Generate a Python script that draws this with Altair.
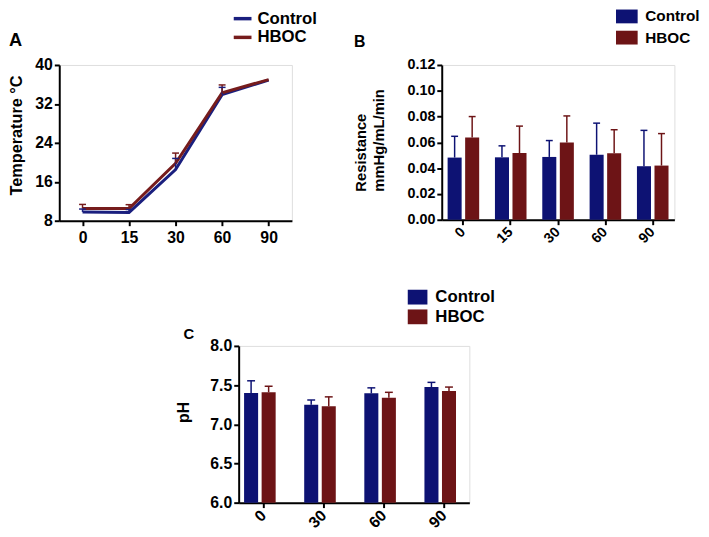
import altair as alt
import pandas as pd

FONT = "Liberation Sans"

# ---------------- data ----------------
groups = ["Control", "HBOC"]

# Panel A: temperature (line chart, mean + upper SEM)
times_a = ["0", "15", "30", "60", "90"]
temp_control = [9.8, 9.7, 18.5, 33.9, 36.9]
temp_control_err = [0.6, 0.6, 2.3, 1.5, 0.0]
temp_hboc = [10.5, 10.5, 19.8, 34.3, 37.0]
temp_hboc_err = [0.85, 0.8, 2.1, 1.6, 0.0]

# Panel B: resistance
times_b = ["0", "15", "30", "60", "90"]
res_control = [0.0482, 0.0484, 0.0487, 0.0504, 0.0415]
res_control_err = [0.0165, 0.0089, 0.0127, 0.0245, 0.0278]
res_hboc = [0.0637, 0.0517, 0.0599, 0.0515, 0.0420]
res_hboc_err = [0.0163, 0.0209, 0.0206, 0.0183, 0.0248]

# Panel C: pH
times_c = ["0", "30", "60", "90"]
ph_control = [7.40, 7.25, 7.395, 7.475]
ph_control_err = [0.155, 0.06, 0.07, 0.06]
ph_hboc = [7.41, 7.23, 7.34, 7.424]
ph_hboc_err = [0.075, 0.12, 0.068, 0.051]

line_colors = ["#1a1f7e", "#761c1c"]
bar_colors = ["#0d1273", "#6d1416"]


def long_df(times, c, ce, h, he):
    n = len(times)
    df = pd.DataFrame({
        "time": list(times) * 2,
        "group": ["Control"] * n + ["HBOC"] * n,
        "value": list(c) + list(h),
        "err": list(ce) + list(he),
    })
    df["upper"] = df["value"] + df["err"]
    return df


df_a = long_df(times_a, temp_control, temp_control_err, temp_hboc, temp_hboc_err)
df_b = long_df(times_b, res_control, res_control_err, res_hboc, res_hboc_err)
df_c = long_df(times_c, ph_control, ph_control_err, ph_hboc, ph_hboc_err)

axis_common = dict(grid=False, domainColor="black", domainWidth=2, tickColor="black",
                   tickWidth=2, tickSize=5, labelColor="black", titleColor="black",
                   labelFont=FONT, titleFont=FONT, labelFontWeight="bold",
                   titleFontWeight="bold", labelOverlap=False)

# ---------------- Panel A ----------------
xa = alt.X("time:N", sort=times_a, scale=alt.Scale(type="point", padding=0.5),
           axis=alt.Axis(title=None, labelAngle=0, labelFontSize=16, labelPadding=4,
                         **axis_common))
ya = alt.Y("value:Q", scale=alt.Scale(domain=[8, 40], nice=False, zero=False),
           axis=alt.Axis(values=[8, 16, 24, 32, 40], tickCount=10, labelFontSize=16,
                         labelPadding=2, title="Temperature °C", titleFontSize=16.5,
                         titleAngle=-90, titleX=-38, titleY=71, titleAlign="center",
                         titleBaseline="alphabetic", **axis_common))
color_a = alt.Color("group:N", scale=alt.Scale(domain=groups, range=line_colors),
                    legend=alt.Legend(title=None, orient="none", legendX=175, legendY=-58,
                                      padding=0, symbolType="stroke",
                                      symbolStrokeWidth=3.5, symbolSize=324,
                                      labelFontSize=17, labelFont=FONT,
                                      labelFontWeight="bold", labelColor="black",
                                      labelOffset=4, rowPadding=0))
base_a = alt.Chart(df_a)
lines_a = base_a.mark_line(strokeWidth=3).encode(x=xa, y=ya, color=color_a)
rule_a = base_a.mark_rule(strokeWidth=1.5).transform_filter("datum.err > 0").encode(
    x=xa, y="value:Q", y2="upper:Q", color=alt.Color("group:N", legend=None))
cap_a = base_a.mark_tick(size=7, thickness=1.5, opacity=1).transform_filter(
    "datum.err > 0").encode(x=xa, y="upper:Q", color=alt.Color("group:N", legend=None))
chart_a = alt.layer(lines_a, rule_a, cap_a).properties(
    width=236, height=158,
    title=alt.TitleParams("A", anchor="start", frame="group", dx=-51, dy=46,
                          fontSize=18.5, fontWeight="bold", font=FONT, color="black"))


# ---------------- bar panels ----------------
def bar_panel(df, times, ydomain, yvalues, yformat, ytitle, label_size, tick_font,
              pad_inner, pad_outer, off_inner, cap, legend_kw, title_kw, width, height,
              title_axis_kw):
    x = alt.X("time:N", sort=times,
              scale=alt.Scale(paddingInner=pad_inner, paddingOuter=pad_outer),
              axis=alt.Axis(title=None, labelAngle=-45, labelAlign="right",
                            labelBaseline="middle", labelFontSize=tick_font,
                            labelPadding=5, **axis_common))
    xo = alt.XOffset("group:N", sort=groups,
                     scale=alt.Scale(paddingInner=off_inner, paddingOuter=0))
    y = alt.Y("value:Q", scale=alt.Scale(domain=ydomain, nice=False, zero=False),
              axis=alt.Axis(values=yvalues, tickCount=12, format=yformat,
                            labelFontSize=tick_font, labelPadding=2, title=ytitle,
                            titleFontSize=label_size, **title_axis_kw, **axis_common))
    color = alt.Color("group:N", scale=alt.Scale(domain=groups, range=bar_colors),
                      legend=alt.Legend(title=None, orient="none", labelFont=FONT,
                                        labelFontWeight="bold", labelColor="black",
                                        symbolStrokeWidth=0, symbolOpacity=1, padding=0,
                                        **legend_kw))
    base = alt.Chart(df)
    bars = base.mark_bar(opacity=1).encode(x=x, xOffset=xo, y=y,
                                           y2=alt.datum(ydomain[0]), color=color)
    rules = base.mark_rule(strokeWidth=1.5, opacity=1).encode(
        x=x, xOffset=xo, y="value:Q", y2="upper:Q", color=alt.Color("group:N"))
    caps = base.mark_tick(size=cap, thickness=1.5, opacity=1).encode(
        x=x, xOffset=xo, y="upper:Q", color=alt.Color("group:N"))
    return alt.layer(bars, rules, caps).properties(
        width=width, height=height, title=alt.TitleParams(**title_kw))


chart_b = bar_panel(
    df_b, times_b, [0, 0.12], [0, 0.02, 0.04, 0.06, 0.08, 0.10, 0.12], ".2f",
    ["Resistance", "mmHg/mL/min"], 15, 14.5, 0.333, 0.124, 0.2, 7,
    dict(legendX=180, legendY=-57, symbolType="M-1.57,-1L1.57,-1L1.57,1L-1.57,1Z",
         symbolSize=196, labelFontSize=15.5, labelOffset=11, rowPadding=4.5),
    dict(text="B", anchor="start", frame="group", dx=-89, dy=46, fontSize=16,
         fontWeight="bold", font=FONT, color="black"),
    236, 157,
    dict(titleAngle=-90, titleX=-77, titleY=128, titleAlign="left",
         titleBaseline="alphabetic", titleLineHeight=18))

chart_c = bar_panel(
    df_c, times_c, [6, 8], [6.0, 6.5, 7.0, 7.5, 8.0], ".1f",
    "pH", 16, 16, 0.343, 0.09, 0.26, 8,
    dict(legendX=173, legendY=-58, symbolType="M-1.33,-1L1.33,-1L1.33,1L-1.33,1Z",
         symbolSize=225, labelFontSize=17, labelOffset=9.5, rowPadding=2),
    dict(text="C", anchor="start", frame="group", dx=-56, dy=58, fontSize=15,
         fontWeight="bold", font=FONT, color="black"),
    234, 159,
    dict(titleAngle=-90, titleX=-51, titleY=67, titleAlign="center",
         titleBaseline="alphabetic"))

spacer = alt.Chart(pd.DataFrame({"s": [0]})).mark_point(opacity=0, size=1).encode(
    x=alt.value(5), y=alt.value(5)).properties(
    width=117, height=10,
    view=alt.ViewBackground(stroke="transparent", strokeWidth=0, fill="transparent"))

row1 = alt.hconcat(chart_a, chart_b, spacing=35).resolve_scale(
    color="independent").resolve_legend(color="independent")
row2 = alt.hconcat(spacer, chart_c, spacing=0).resolve_scale(
    color="independent").resolve_legend(color="independent")

chart = alt.vconcat(row1, row2, spacing=42).resolve_scale(
    color="independent").resolve_legend(color="independent").properties(
    padding={"left": 0, "top": -5, "right": 0, "bottom": 0},
    background="white").configure_view(stroke="transparent", strokeWidth=0).configure(
    font=FONT)

chart.save("out.html", embed_options={"renderer": "svg", "actions": False})
